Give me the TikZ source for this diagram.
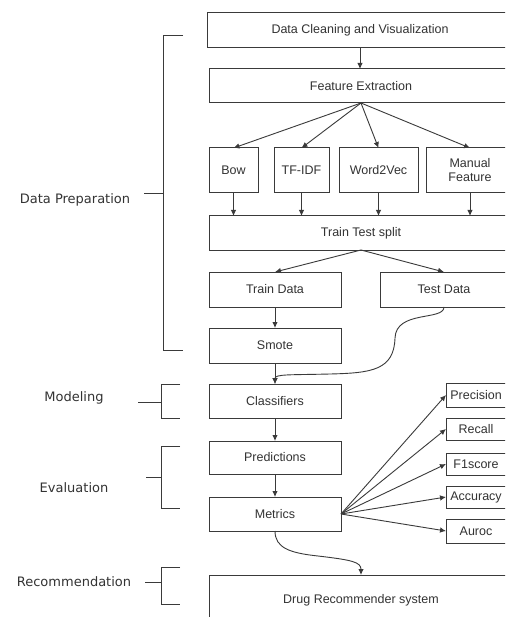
\documentclass[tikz,border=0pt]{standalone}
\usepackage{fontspec}
\setmainfont{Liberation Sans}
\newfontfamily\lblfont{DejaVu Sans}
\usetikzlibrary{arrows.meta}
\definecolor{ln}{HTML}{3A3A3A}
\definecolor{tx}{HTML}{333333}
\tikzset{
  box/.style={draw=ln, line width=1pt, inner sep=0pt, outer sep=0pt, fill=white,
    text=tx, font=\fontsize{12.5}{14}\selectfont, align=center},
  arr/.style={draw=ln, line width=0.9pt, -{Latex[length=6pt,width=5.5pt]}},
  brk/.style={draw=ln, line width=1pt},
  lbl/.style={text=tx, font=\lblfont\fontsize{13}{15}\selectfont, inner sep=0pt}
}
\begin{document}
\begin{tikzpicture}[x=1pt,y=-1pt]
\path[use as bounding box] (0,0) rectangle (505,617);
\clip (0,0) rectangle (505,617);
\fill[white] (0,0) rectangle (505,617);

% main boxes
\node[box, minimum width=306pt, minimum height=35pt] (dc) at (360,30.5) {Data Cleaning and Visualization};
\node[box, minimum width=304pt, minimum height=34pt] (fe) at (361,86) {Feature Extraction};
\node[box, minimum width=49pt, minimum height=45pt] (bow) at (233.5,170.5) {Bow};
\node[box, minimum width=55pt, minimum height=45pt] (tfidf) at (301.5,170.5) {TF-IDF};
\node[box, minimum width=79pt, minimum height=45pt] (w2v) at (378.5,170.5) {Word2Vec};
\node[box, minimum width=88pt, minimum height=45pt] (mf) at (470,170.5) {Manual\\Feature};
\node[box, minimum width=304pt, minimum height=34pt] (tts) at (361,233) {Train Test split};
\node[box, minimum width=132pt, minimum height=35pt] (train) at (275,289.5) {Train Data};
\node[box, minimum width=128pt, minimum height=35pt] (test) at (444,289.5) {Test Data};
\node[box, minimum width=132pt, minimum height=35pt] (smote) at (275,345.5) {Smote};
\node[box, minimum width=132pt, minimum height=34pt] (cls) at (275,401) {Classifiers};
\node[box, minimum width=132pt, minimum height=33pt] (pred) at (275,457.5) {Predictions};
\node[box, minimum width=132pt, minimum height=34pt] (met) at (275,514) {Metrics};
\node[box, minimum width=304pt, minimum height=50pt] (drug) at (361,600) {Drug Recommender system};

% metric boxes
\node[box, minimum width=60pt, minimum height=24pt] (prec) at (476,395) {Precision};
\node[box, minimum width=60pt, minimum height=22pt] (rec) at (476,429) {Recall};
\node[box, minimum width=60pt, minimum height=22pt] (f1) at (476,464) {F1score};
\node[box, minimum width=60pt, minimum height=22pt] (acc) at (476,497) {Accuracy};
\node[box, minimum width=60pt, minimum height=24pt] (aur) at (476,531) {Auroc};

% connectors
\draw[arr] (dc.south) -- (dc.south |- fe.north);
\foreach \n in {bow,tfidf,w2v,mf} {
  \draw[arr] (fe.south) -- (\n.north);
  \draw[arr] (\n.south) -- (\n.south |- tts.north);
}
\draw[arr] (tts.south) -- (train.north);
\draw[arr] (tts.south) -- (test.north);
\draw[arr] (train.south) -- (smote.north);
\draw[arr] (smote.south) -- (cls.north);
\draw[arr] (test.south) .. controls +(0,14) and (396,310) .. (395,338)
  .. controls (394,370) and (372,373) .. (330,374)
  .. controls (290,375) and (275,374) .. (cls.north);
\draw[arr] (cls.south) -- (pred.north);
\draw[arr] (pred.south) -- (met.north);
\foreach \n in {prec,rec,f1,acc,aur} {
  \draw[arr] (met.east) -- (\n.west);
}
\draw[arr] (met.south) .. controls (275,548) and (290,553) .. (318,556)
  .. controls (352,560) and (361,562) .. (drug.north);

% brackets
\draw[brk] (183,36) -- (163,36) -- (163,350) -- (183,350);
\draw[brk] (144,194) -- (163,194);
\draw[brk] (180,384) -- (161,384) -- (161,418) -- (180,418);
\draw[brk] (138,402) -- (161,402);
\draw[brk] (180,446) -- (161,446) -- (161,508) -- (180,508);
\draw[brk] (146,477) -- (161,477);
\draw[brk] (180,567) -- (161,567) -- (161,604) -- (180,604);
\draw[brk] (145,582) -- (161,582);

% labels
\node[lbl] (lprep) at (75,200) {Data Preparation};
\node[lbl] (lmod) at (74,398) {Modeling};
\node[lbl] (leval) at (74,488) {Evaluation};
\node[lbl] (lrec) at (74,582) {Recommendation};
\end{tikzpicture}
\end{document}
